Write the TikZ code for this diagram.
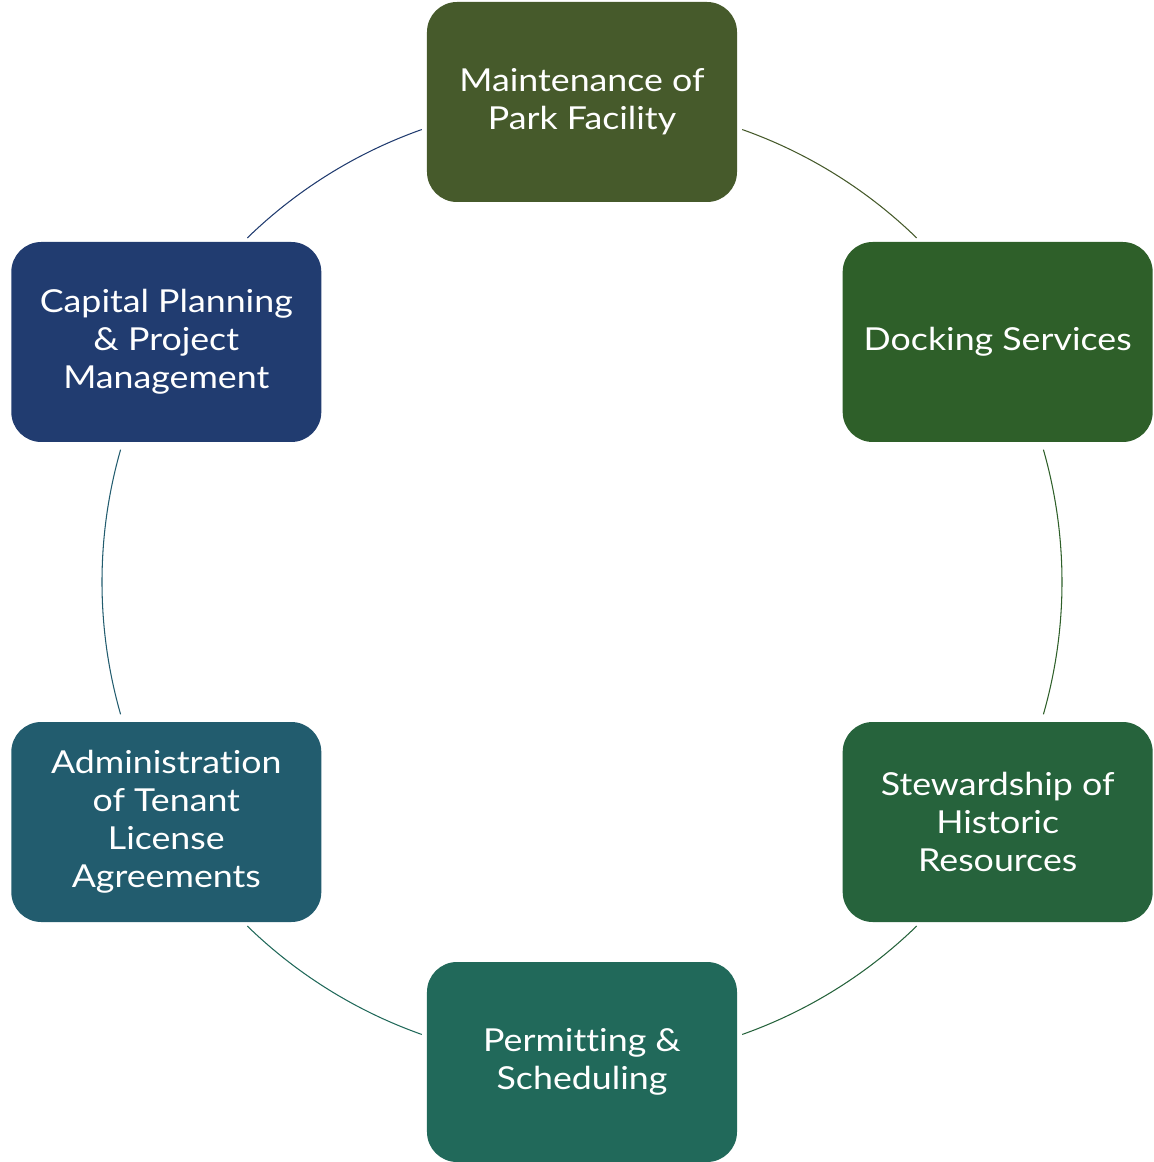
\documentclass[tikz,border=0pt]{standalone}
\usepackage{fontspec}
\setmainfont[FakeStretch=1.13,Ligatures=NoCommon]{Lato}
\definecolor{olivebox}{HTML}{465A2B}
\definecolor{dockbox}{HTML}{2E5F29}
\definecolor{histbox}{HTML}{26633C}
\definecolor{permbox}{HTML}{21695A}
\definecolor{tenantbox}{HTML}{225C6E}
\definecolor{capbox}{HTML}{213C70}
\begin{document}
\begin{tikzpicture}[
  task/.style={rectangle,rounded corners=0.6cm,minimum width=6.2cm,minimum height=4cm,
    inner sep=0pt,text=white,align=center,font=\fontsize{18}{21.6}\selectfont},
  ring/.style={line width=0.6pt}
]
\useasboundingbox (-11.64,-11.6) rectangle (11.42,11.64);
\coordinate (hub) at (0,0);
\node[task,fill=olivebox] (M) at (90:9.6) {Maintenance of\\Park Facility};
\node[task,fill=dockbox] (D) at (30:9.6) {Docking Services};
\node[task,fill=histbox] (S) at (-30:9.6) {Stewardship of\\Historic\\Resources};
\node[task,fill=permbox] (P) at (-90:9.6) {Permitting \&\\Scheduling};
\node[task,fill=tenantbox] (A) at (-150:9.6) {Administration\\of Tenant\\License\\Agreements};
\node[task,fill=capbox] (C) at (150:9.6) {Capital Planning\\\& Project\\Management};
% ring pieces between the boxes, clockwise
\draw[ring,olivebox] (hub) ++(70.5:9.6) arc[start angle=70.5,end angle=45.8,radius=9.6];
\draw[ring,dockbox] (hub) ++(16:9.6) arc[start angle=16,end angle=-16,radius=9.6];
\draw[ring,histbox] (hub) ++(-45.8:9.6) arc[start angle=-45.8,end angle=-70.5,radius=9.6];
\draw[ring,permbox] (hub) ++(-109.5:9.6) arc[start angle=-109.5,end angle=-134.2,radius=9.6];
\draw[ring,tenantbox] (hub) ++(-164:9.6) arc[start angle=-164,end angle=-196,radius=9.6];
\draw[ring,capbox] (hub) ++(134.2:9.6) arc[start angle=134.2,end angle=109.5,radius=9.6];
\end{tikzpicture}
\end{document}
